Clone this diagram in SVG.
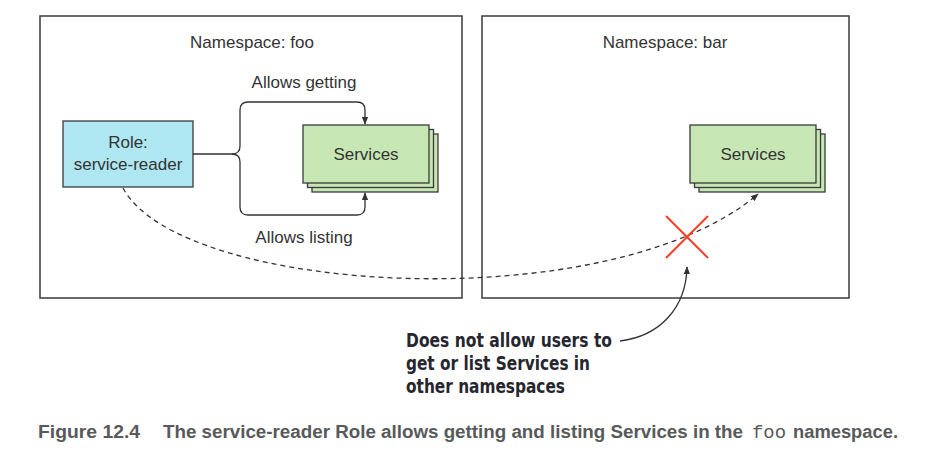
<svg xmlns="http://www.w3.org/2000/svg" width="945" height="465" viewBox="0 0 945 465">
<defs>
<style>
.ns{fill:#fff;stroke:#3a3a3a;stroke-width:1.5}
.lbl{font-family:"Liberation Sans",Arial,sans-serif;font-size:17px;fill:#333}
.svc{fill:#c6e6b4;stroke:#3a3a3a;stroke-width:1.3}
.role{fill:#aee6f2;stroke:#3a3a3a;stroke-width:1.3}
.con{fill:none;stroke:#333;stroke-width:1.3}
.dash{fill:none;stroke:#333;stroke-width:1.3;stroke-dasharray:5,4}
.note{font-family:"Liberation Sans Narrow","DejaVu Sans Condensed","Liberation Sans",sans-serif;font-weight:bold;font-size:20px;fill:#26262f}
.cap{font-family:"Liberation Sans Narrow","Liberation Sans",sans-serif;font-weight:bold;font-size:18px;fill:#58595b}
.capm{font-family:"Liberation Mono","Courier New",monospace;font-size:18px;fill:#58595b}
</style>
<marker id="ah" viewBox="0 0 10 10" refX="9" refY="5" markerWidth="8" markerHeight="8" markerUnits="userSpaceOnUse" orient="auto">
<path d="M0,1 L10,5 L0,9 Z" fill="#333"/>
</marker>
</defs>

<g id="ns-foo">
<rect class="ns" x="40" y="16" width="422" height="282"/>
<text class="lbl" x="252" y="48" text-anchor="middle">Namespace: foo</text>
</g>
<g id="ns-bar">
<rect class="ns" x="482" y="16" width="367" height="282"/>
<text class="lbl" x="665" y="48" text-anchor="middle">Namespace: bar</text>
</g>

<g id="role">
<rect class="role" x="63" y="121" width="130" height="66"/>
<text class="lbl" x="128" y="148" text-anchor="middle">Role:</text>
<text class="lbl" x="128" y="170" text-anchor="middle">service-reader</text>
</g>

<g id="services-foo">
<rect class="svc" x="312" y="134" width="126" height="58"/>
<rect class="svc" x="307.5" y="129.5" width="126" height="58"/>
<rect class="svc" x="303" y="125" width="126" height="58"/>
<text class="lbl" x="366" y="160" text-anchor="middle">Services</text>
</g>

<g id="services-bar">
<rect class="svc" x="699" y="134" width="126" height="58"/>
<rect class="svc" x="694.5" y="129.5" width="126" height="58"/>
<rect class="svc" x="690" y="125" width="126" height="58"/>
<text class="lbl" x="753" y="160" text-anchor="middle">Services</text>
</g>

<g id="connectors">
<path class="con" d="M193,154 H232 Q240,154 240,146 V110 Q240,102 248,102 H357 Q365,102 365,110 V124" marker-end="url(#ah)"/>
<path class="con" d="M232,154 Q240,154 240,162 V207 Q240,215 248,215 H357 Q365,215 365,207 V193" marker-end="url(#ah)"/>
<path class="dash" d="M123,188 C180,295 610,320 758,194" marker-end="url(#ah)"/>
<path class="con" d="M620,341 C660,336 686,308 687,267" marker-end="url(#ah)"/>
</g>

<g id="labels">
<text class="lbl" x="304" y="88" text-anchor="middle">Allows getting</text>
<text class="lbl" x="304" y="243" text-anchor="middle">Allows listing</text>
</g>

<g id="cross">
<line x1="666" y1="216" x2="708" y2="258" stroke="#ff3b22" stroke-width="2"/>
<line x1="708" y1="216" x2="666" y2="258" stroke="#ff3b22" stroke-width="2"/>
</g>

<g id="note">
<text class="note" x="406" y="347" textLength="206" lengthAdjust="spacingAndGlyphs">Does not allow users to</text>
<text class="note" x="406" y="370" textLength="184" lengthAdjust="spacingAndGlyphs">get or list Services in</text>
<text class="note" x="406" y="393" textLength="159" lengthAdjust="spacingAndGlyphs">other namespaces</text>
</g>

<g id="caption">
<text class="cap" x="38" y="438" textLength="102" lengthAdjust="spacingAndGlyphs">Figure 12.4</text>
<text class="cap" x="163" y="438" textLength="580" lengthAdjust="spacingAndGlyphs">The service-reader Role allows getting and listing Services in the</text>
<text class="capm" x="752" y="438" textLength="34" lengthAdjust="spacingAndGlyphs">foo</text>
<text class="cap" x="793" y="438" textLength="105" lengthAdjust="spacingAndGlyphs">namespace.</text>
</g>
</svg>
